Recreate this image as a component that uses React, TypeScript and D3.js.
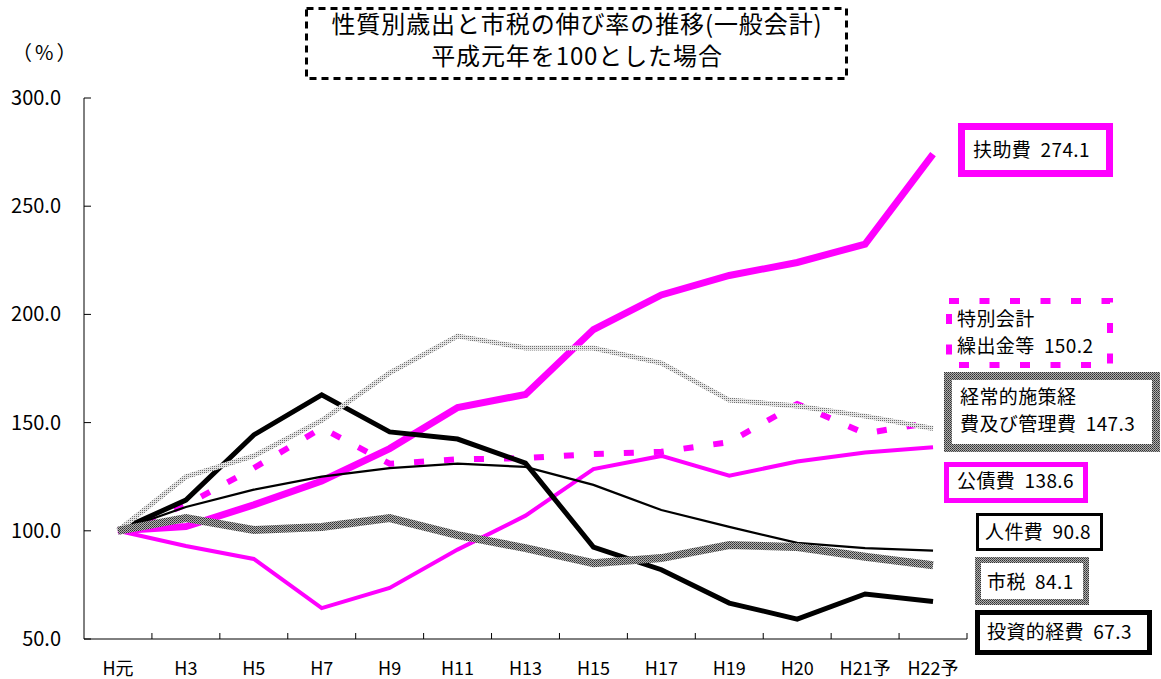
import React, { useEffect } from 'react';
import * as d3 from 'd3';

// 年度（平成元年=100）
const categories = ['H元', 'H3', 'H5', 'H7', 'H9', 'H11', 'H13', 'H15', 'H17', 'H19', 'H20', 'H21予', 'H22予'];

const fujo = [100, 102, 112, 123, 138, 157, 163, 193, 209, 218, 224, 232.5, 274.1];
const kousai = [100, 93, 87, 64.3, 73.6, 91.3, 107, 128.5, 134.6, 125.5, 132, 136.2, 138.6];
const tokubetsu = [100, 112, 129, 147.5, 131, 133, 133.6, 135.5, 136.5, 141, 158.6, 145, 150.2];
const keijou = [100, 125, 134.6, 151, 173, 190, 184.5, 184.5, 177.5, 160.4, 157.7, 153, 147.3];
const toushi = [100, 114.2, 144.3, 162.8, 145.7, 142.4, 131.3, 92.5, 82, 66.6, 59.2, 70.8, 67.3];
const jinken = [100, 111, 119, 125, 129, 131, 129.5, 121.2, 109.6, 101.8, 94.4, 92, 90.8];
const shizei = [100, 105.9, 100.4, 101.8, 105.9, 98, 92, 85, 87.4, 93.4, 92.5, 88, 84.1];

const yTicks = [50, 100, 150, 200, 250, 300];

const titleLines = ['性質別歳出と市税の伸び率の推移(一般会計)', '平成元年を100とした場合'];

const FONT = "'Noto Sans CJK JP', sans-serif";
const MAGENTA = '#ff00ff';

// series draw settings (order = draw order)
const series = [
  { name: '扶助費', values: fujo, stroke: MAGENTA, width: 7, dash: null },
  { name: '公債費', values: kousai, stroke: MAGENTA, width: 4, dash: null },
  { name: '特別会計繰出金等', values: tokubetsu, stroke: MAGENTA, width: 6, dash: '10 20' },
  { name: '人件費', values: jinken, stroke: '#000', width: 2.2, dash: null },
  { name: '投資的経費', values: toushi, stroke: '#000', width: 5, dash: null },
  { name: '経常的施策経費及び管理費', values: keijou, stroke: 'url(#texLight)', width: 5, dash: null },
  { name: '市税', values: shizei, stroke: 'url(#texDark)', width: 8, dash: null },
];

// legend boxes: outer rectangle + text lines
const legends = [
  { x0: 958, y0: 123, x1: 1113, y1: 177, sw: 7, stroke: MAGENTA, dash: null, tx: 973, lines: ['扶助費  274.1'], base: 157 },
  { x0: 946, y0: 298, x1: 1113, y1: 368, sw: 6, stroke: MAGENTA, dash: '10 20.5', tx: 957, lines: ['特別会計', '繰出金等  150.2'], base: 326 },
  { x0: 944, y0: 372, x1: 1160, y1: 452, sw: 8, stroke: 'url(#texDark)', dash: null, tx: 960, lines: ['経常的施策経', '費及び管理費  147.3'], base: 404 },
  { x0: 944, y0: 462, x1: 1088, y1: 503, sw: 5, stroke: MAGENTA, dash: null, tx: 957, lines: ['公債費  138.6'], base: 488 },
  { x0: 976, y0: 513, x1: 1103, y1: 551, sw: 3, stroke: '#000', dash: null, tx: 985, lines: ['人件費  90.8'], base: 539 },
  { x0: 975, y0: 557, x1: 1089, y1: 605, sw: 6, stroke: 'url(#texDark)', dash: null, tx: 987, lines: ['市税  84.1'], base: 589 },
  { x0: 975, y0: 610, x1: 1152, y1: 655, sw: 5, stroke: '#000', dash: null, tx: 987, lines: ['投資的経費  67.3'], base: 639 },
];

export default function App() {
  useEffect(() => {
    document.body.style.margin = '0';
  }, []);

  const width = 1161, height = 679;
  const left = 84, right = 967, top = 98, bottom = 639;

  const x = d3.scaleBand().domain(categories).range([left, right]).padding(0);
  const y = d3.scaleLinear().domain([50, 300]).range([bottom, top]);
  const cx = (c: string) => (x(c) as number) + x.bandwidth() / 2;

  const line = d3.line<number>()
    .x((_, i) => cx(categories[i]))
    .y(d => y(d));

  return (
    <svg width={width} height={height} style={{ display: 'block', fontFamily: FONT }}>
      <defs>
        <pattern id="texDark" width="2" height="2" patternUnits="userSpaceOnUse">
          <rect width="2" height="2" fill="#b0b0b0" />
          <rect width="1" height="1" fill="#303030" />
          <rect x="1" y="1" width="1" height="1" fill="#505050" />
        </pattern>
        <pattern id="texLight" width="2" height="2" patternUnits="userSpaceOnUse">
          <rect width="2" height="2" fill="#e4e4e4" />
          <rect width="1" height="1" fill="#707070" />
        </pattern>
      </defs>

      {/* title */}
      <rect x={306.5} y={8.5} width={540} height={70} fill="#fff" stroke="#000" strokeWidth={3} strokeDasharray="7 5" />
      <text x={577} y={33} textAnchor="middle" fontSize={24} letterSpacing={0.9}>
        {titleLines.map((t, i) => (
          <tspan key={t} x={577} dy={i === 0 ? 0 : 32}>{t}</tspan>
        ))}
      </text>
      <text x={12} y={60} fontSize={20} letterSpacing={3}>（%）</text>

      {/* axes */}
      <line x1={left} x2={left} y1={top} y2={bottom} stroke="#000" strokeWidth={1} />
      <line x1={left} x2={right} y1={bottom} y2={bottom} stroke="#000" strokeWidth={1} />
      {yTicks.map(t => (
        <g key={t}>
          <line x1={left} x2={left + 7} y1={y(t)} y2={y(t)} stroke="#000" />
          <text x={61} y={y(t) + 7} textAnchor="end" fontSize={20}>{t.toFixed(1)}</text>
        </g>
      ))}
      {categories.map(c => (
        <g key={c}>
          <line x1={(x(c) as number) + x.bandwidth()} x2={(x(c) as number) + x.bandwidth()} y1={bottom} y2={bottom - 6} stroke="#000" />
          <text x={cx(c)} y={675} textAnchor="middle" fontSize={18}>{c}</text>
        </g>
      ))}

      {/* series */}
      {series.map(s => (
        <path key={s.name} d={line(s.values) || ''} fill="none" stroke={s.stroke}
          strokeWidth={s.width} strokeDasharray={s.dash || undefined} strokeLinejoin="miter" />
      ))}

      {/* legends */}
      {legends.map((l, i) => (
        <g key={i}>
          <rect x={l.x0 + l.sw / 2} y={l.y0 + l.sw / 2} width={l.x1 - l.x0 - l.sw} height={l.y1 - l.y0 - l.sw}
            fill="#fff" stroke={l.stroke} strokeWidth={l.sw} strokeDasharray={l.dash || undefined} />
          <text x={l.tx} y={l.base} fontSize={19} letterSpacing={0.4} style={{ whiteSpace: 'pre' }}>
            {l.lines.map((t, j) => (
              <tspan key={j} x={l.tx} dy={j === 0 ? 0 : 27}>{t}</tspan>
            ))}
          </text>
        </g>
      ))}
    </svg>
  );
}
